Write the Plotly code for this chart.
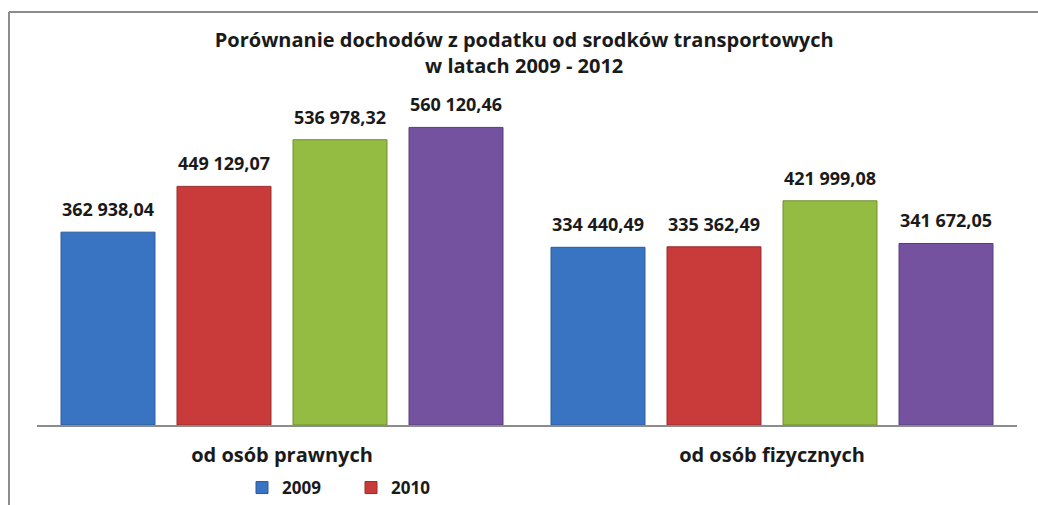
import plotly.graph_objects as go

categories = ["od osób prawnych", "od osób fizycznych"]
years = ["2009", "2010", "2011", "2012"]
values_2009 = [362938.04, 334440.49]
values_2010 = [449129.07, 335362.49]
values_2011 = [536978.32, 421999.08]
values_2012 = [560120.46, 341672.05]
series = [values_2009, values_2010, values_2011, values_2012]
colors = ["#3874C2", "#C93B3B", "#95BC42", "#7452A0"]
outlines = ["#2A5A99", "#962C2C", "#6F8E30", "#563C7A"]
show_in_legend = [True, True, False, False]

def fmt(v):
    s = f"{v:,.2f}"
    return s.replace(",", " ").replace(".", ",")

W, H = 1038, 505
L, R, T, B = 37, 21, 60, 80
FONT = "Open Sans"
Y_MAX = 687000
LABEL_PAD_PX = 8

pw = W - L - R
ph = H - T - B
units_per_px = Y_MAX / ph
def px_x(x):
    return (x - L) / pw
def px_y(y):
    return (H - B - y) / ph

fig = go.Figure()
for name, vals, c, oc, sl in zip(years, series, colors, outlines, show_in_legend):
    fig.add_trace(go.Bar(
        name=name, x=categories, y=vals, offsetgroup=name,
        marker=dict(color=c, line=dict(color=oc, width=1)),
        showlegend=sl,
    ))
    # transparent companion bar carrying the value label, lifted a few pixels
    fig.add_trace(go.Bar(
        name=name, x=categories, y=[v + LABEL_PAD_PX * units_per_px for v in vals],
        offsetgroup=name, hoverinfo="skip",
        marker=dict(color="rgba(0,0,0,0)", line=dict(width=0)),
        text=[fmt(v) for v in vals], textposition="outside",
        textfont=dict(family=FONT, size=18, color="#1a1a1a", weight="bold"),
        cliponaxis=False, showlegend=False,
    ))

fig.update_layout(
    width=W, height=H,
    margin=dict(l=L, r=R, t=T, b=B, autoexpand=False),
    paper_bgcolor="white", plot_bgcolor="white",
    barmode="group", bargap=0.053, bargroupgap=0.19,
    title=dict(
        text="Porównanie dochodów z podatku od srodków transportowych<br>w latach 2009 - 2012",
        x=0.505, xanchor="center", y=1 - 47 / H, yanchor="middle",
        font=dict(family=FONT, size=20, color="#1a1a1a", weight="bold"),
    ),
    font=dict(family=FONT, color="#1a1a1a"),
    xaxis=dict(showline=True, linecolor="#8c8c8c", linewidth=1.5,
               tickfont=dict(family=FONT, size=20, color="#1a1a1a", weight="bold"),
               ticks="", ticklabelstandoff=11, automargin=False),
    yaxis=dict(range=[0, Y_MAX], visible=False, automargin=False),
    legend=dict(orientation="h", x=px_x(242), xanchor="left", y=px_y(488), yanchor="middle",
                font=dict(family=FONT, size=17, color="#1a1a1a", weight="bold"),
                itemwidth=30, entrywidth=64, bgcolor="rgba(0,0,0,0)"),
    showlegend=True,
)

fig.add_shape(type="line", xref="paper", yref="paper",
              x0=px_x(9), x1=px_x(W + 5), y0=px_y(12), y1=px_y(12),
              line=dict(color="#8c8c8c", width=2))
fig.add_shape(type="line", xref="paper", yref="paper",
              x0=px_x(9), x1=px_x(9), y0=px_y(12), y1=px_y(H + 5),
              line=dict(color="#8c8c8c", width=2))

fig.write_html("out.html",
               config={"displayModeBar": False},
               post_script="document.body.style.margin='0';document.body.style.overflow='hidden';")
